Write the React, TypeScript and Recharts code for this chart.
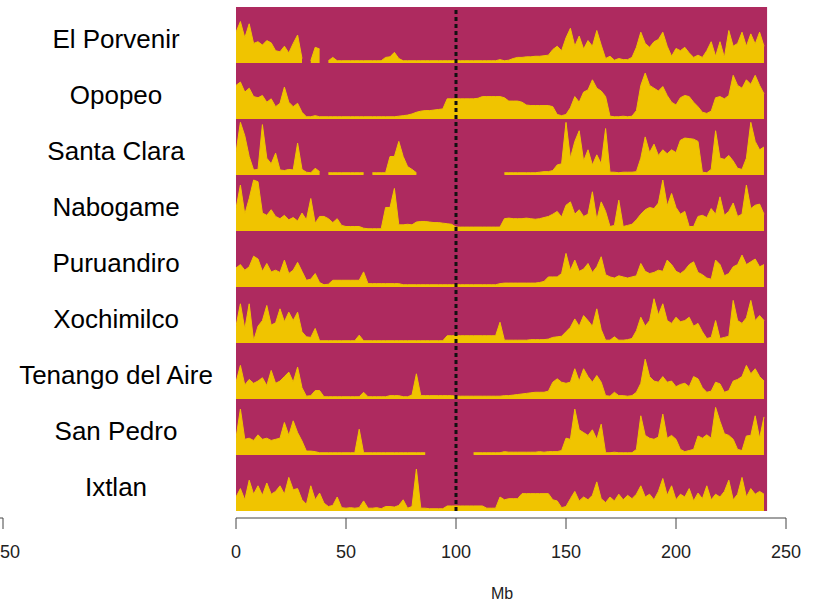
import React from 'react';
import { AreaChart, Area, XAxis, YAxis, ReferenceArea, ReferenceLine } from 'recharts';

// window start positions along the chromosome (Mb)
const MB = [
  0, 2, 4, 6, 8, 10, 12, 14, 16, 18,
  20, 22, 24, 26, 28, 30, 32, 34, 36, 38,
  40, 42, 44, 46, 48, 50, 52, 54, 56, 58,
  60, 62, 64, 66, 68, 70, 72, 74, 76, 78,
  80, 82, 84, 86, 88, 90, 92, 94, 96, 98,
  100, 102, 104, 106, 108, 110, 112, 114, 116, 118,
  120, 122, 124, 126, 128, 130, 132, 134, 136, 138,
  140, 142, 144, 146, 148, 150, 152, 154, 156, 158,
  160, 162, 164, 166, 168, 170, 172, 174, 176, 178,
  180, 182, 184, 186, 188, 190, 192, 194, 196, 198,
  200, 202, 204, 206, 208, 210, 212, 214, 216, 218,
  220, 222, 224, 226, 228, 230, 232, 234, 236, 238,
  240,
];

const POPULATIONS = [
  'El Porvenir', 'Opopeo', 'Santa Clara', 'Nabogame', 'Puruandiro',
  'Xochimilco', 'Tenango del Aire', 'San Pedro', 'Ixtlan',
];

// score per window, scaled 0-100 of the panel height; null = no data
const elPorvenir = [
  55, 74, 45, 70, 35, 38, 32, 40, 36, 22,
  20, 30, 18, 35, 50, 8, null, 4, 28, 25,
  null, 4, 10, 4, 4, 4, 4, 4, 4, 4,
  4, 4, 4, 4, 10, 11, 19, 8, 4, 4,
  4, 4, 4, 4, 4, 4, 4, 4, 4, 4,
  4, 4, 4, 4, 4, 4, 4, 4, 4, 4,
  6, 4, 5, 8, 10, 10, 11, 11, 12, 12,
  13, 14, 24, 30, 22, 45, 62, 30, 48, 25,
  40, 30, 58, 32, 8, 12, 5, 8, 6, 6,
  10, 28, 55, 35, 28, 38, 42, 55, 30, 12,
  26, 22, 28, 18, 10, 14, 10, 22, 38, 12,
  38, 10, 58, 30, 35, 55, 30, 52, 34, 55,
  30,
];

const opopeo = [
  60, 66, 48, 55, 40, 38, 42, 30, 36, 22,
  28, 57, 30, 22, 28, 12, 4, 4, 6, 4,
  4, 4, 4, 4, 4, 4, 4, 4, 4, 4,
  4, 4, 4, 4, 4, 4, 4, 5, 6, 7,
  9, 12, 14, 15, 15, 16, 17, 18, 36, 36,
  36, 36, 36, 36, 36, 37, 40, 40, 40, 40,
  40, 38, 32, 32, 32, 30, 25, 24, 24, 24,
  24, 24, 22, 8, 6, 8, 20, 40, 30, 48,
  52, 70, 55, 50, 40, 5, 4, 4, 5, 4,
  5, 15, 60, 82, 60, 55, 50, 58, 42, 30,
  25, 38, 42, 40, 30, 22, 12, 10, 14, 38,
  40, 36, 42, 78, 60, 55, 70, 62, 78, 60,
  45,
];

const santaClara = [
  40, 94, 70, 33, 9, 10, 90, 30, 20, 39,
  9, 8, 10, 9, 57, 10, 5, 4, 12, 6,
  null, 4, 4, 4, 4, 4, 4, 4, 4, 4,
  null, 4, 4, 4, 4, 33, 33, 60, 33, 15,
  10, 4, null, null, null, null, null, null, null, null,
  null, null, null, null, null, null, null, null, null, null,
  null, 4, 4, 4, 4, 4, 4, 4, 4, 5,
  6, 6, 8, 18, 20, 94, 30, 60, 79, 25,
  45, 18, 36, 20, 83, 5, 5, 4, 5, 5,
  5, 6, 30, 68, 40, 55, 35, 45, 38, 45,
  40, 62, 66, 65, 64, 60, 5, 4, 10, 79,
  30, 28, 35, 25, 12, 10, 30, 94, 60, 45,
  50,
];

const nabogame = [
  40, 82, 30, 58, 91, 88, 32, 28, 38, 26,
  22, 28, 20, 24, 18, 32, 20, 58, 14, 26,
  26, 22, 15, 22, 10, 8, 8, 8, 8, 5,
  4, 4, 4, 4, 42, 42, 76, 11, 11, 12,
  11, 16, 17, 17, 16, 15, 15, 14, 13, 12,
  7, 7, 7, 7, 7, 7, 7, 7, 7, 7,
  7, 22, 23, 22, 22, 22, 23, 22, 21, 22,
  24, 26, 30, 35, 25, 46, 52, 30, 38, 26,
  30, 70, 20, 52, 35, 8, 10, 55, 8, 10,
  12, 20, 30, 38, 42, 40, 50, 91, 45, 67,
  42, 30, 35, 8, 8, 26, 28, 24, 40, 30,
  61, 28, 35, 50, 26, 30, 82, 40, 46, 48,
  30,
];

const puruandiro = [
  34, 40, 30, 36, 55, 50, 28, 42, 27, 30,
  26, 48, 24, 30, 44, 28, 12, 14, 24, 8,
  4, 5, 12, 12, 12, 12, 12, 12, 12, 27,
  6, 6, 6, 6, 6, 6, 6, 6, 4, 4,
  4, 4, 4, 4, 4, 4, 4, 4, 4, 4,
  4, 4, 4, 4, 4, 4, 4, 4, 4, 4,
  6, 7, 7, 7, 7, 7, 7, 7, 7, 8,
  10, 18, 18, 18, 24, 60, 30, 48, 28, 32,
  42, 26, 36, 54, 22, 18, 16, 20, 18, 16,
  18, 20, 42, 28, 24, 26, 30, 28, 48, 40,
  28, 24, 30, 40, 45, 26, 22, 16, 14, 48,
  40, 20, 24, 36, 40, 57, 40, 45, 50, 36,
  40,
];

const xochimilco = [
  30, 70, 25, 70, 4, 30, 40, 67, 32, 36,
  61, 38, 55, 40, 55, 20, 11, 10, 26, 4,
  4, 4, 4, 4, 4, 4, 4, 4, 14, 4,
  4, 4, 4, 4, 4, 4, 4, 4, 4, 4,
  4, 4, 4, 4, 4, 4, 4, 4, 13, 13,
  13, 13, 13, 13, 13, 13, 13, 13, 13, 13,
  37, 5, 5, 5, 5, 5, 5, 6, 6, 6,
  6, 7, 10, 11, 12, 20, 28, 43, 30, 49,
  40, 30, 61, 24, 5, 5, 11, 5, 5, 6,
  8, 22, 46, 30, 40, 79, 50, 70, 40, 35,
  46, 38, 40, 46, 30, 35, 20, 8, 10, 40,
  8, 10, 12, 76, 40, 35, 45, 76, 40, 49,
  40,
];

const tenango = [
  30, 60, 25, 35, 28, 32, 38, 24, 51, 28,
  32, 40, 48, 30, 57, 20, 5, 6, 15, 15,
  4, 4, 4, 4, 4, 4, 4, 4, 4, 12,
  4, 4, 4, 4, 4, 6, 6, 6, 4, 4,
  7, 45, 6, 6, 6, 6, 6, 6, 6, 6,
  5, 5, 5, 5, 5, 5, 5, 5, 5, 5,
  5, 6, 6, 7, 8, 9, 10, 11, 12, 12,
  12, 14, 30, 36, 30, 28, 30, 54, 32, 54,
  40, 30, 42, 30, 6, 5, 12, 6, 6, 5,
  6, 12, 28, 71, 40, 32, 30, 40, 30, 32,
  22, 26, 28, 22, 40, 36, 20, 12, 14, 30,
  27, 12, 15, 32, 35, 40, 60, 45, 54, 40,
  32,
];

const sanPedro = [
  30, 82, 28, 30, 26, 36, 28, 30, 26, 28,
  30, 58, 35, 61, 40, 25, 7, 7, 6, 4,
  4, 4, 4, 4, 4, 4, 4, 4, 46, 4,
  4, 4, 4, 4, 4, 4, 4, 4, 4, 4,
  4, 4, 4, 4, null, null, null, null, null, null,
  null, null, null, null, 4, 4, 4, 4, 4, 4,
  4, 6, 5, 5, 5, 5, 5, 5, 5, 6,
  5, 6, 6, 6, 8, 30, 28, 82, 45, 40,
  35, 45, 28, 55, 4, 4, 5, 4, 4, 4,
  4, 10, 70, 35, 30, 28, 32, 73, 30, 35,
  28, 10, 6, 8, 10, 34, 30, 36, 30, 85,
  60, 38, 35, 28, 10, 8, 34, 35, 70, 30,
  68,
];

const ixtlan = [
  25, 40, 20, 55, 30, 45, 28, 50, 30, 35,
  45, 30, 60, 38, 40, 20, 12, 45, 20, 32,
  14, 8, 10, 25, 6, 5, 6, 5, 6, 18,
  5, 5, 6, 4, 8, 8, 7, 10, 20, 5,
  8, 75, 5, 5, 4, 4, 4, 4, 9, 9,
  9, 9, 9, 9, 9, 9, 9, 5, 5, 5,
  25, 20, 22, 22, 22, 31, 31, 31, 31, 31,
  31, 31, 20, 18, 6, 8, 22, 35, 18, 25,
  20, 28, 52, 22, 15, 25, 18, 30, 20, 28,
  22, 30, 45, 25, 30, 20, 35, 58, 28, 45,
  20, 30, 25, 40, 18, 32, 22, 45, 20, 30,
  25, 35, 55, 20, 30, 60, 25, 40, 30, 35,
  30,
];

const SERIES = [elPorvenir, opopeo, santaClara, nabogame, puruandiro, xochimilco, tenango, sanPedro, ixtlan];

const AXIS_TICKS = [0, 50, 100, 150, 200, 250];
const CHROM_END = 241.4;
const CENTROMERE = 100;

const CRIMSON = '#AE2A5F';
const GOLD = '#F0C400';
const FONT = 'Arial, "Liberation Sans", sans-serif';

const W = 817;
const ROW_H = 56;
const TOP = 7;
const MARGIN = { top: 0, right: 31, bottom: 0, left: 236 };

const rows = SERIES.map((vals) => MB.map((mb, i) => ({ mb, v: vals[i] })));

const Row = ({ data }: { data: { mb: number; v: number | null }[] }) => (
  <AreaChart width={W} height={ROW_H} data={data} margin={MARGIN}>
    <XAxis dataKey="mb" type="number" domain={[0, 250]} hide allowDataOverflow />
    <YAxis type="number" domain={[0, 100]} hide allowDataOverflow />
    <ReferenceArea x1={0} x2={CHROM_END} y1={0} y2={100} fill={CRIMSON} fillOpacity={1} stroke="none" />
    <Area
      type="linear"
      dataKey="v"
      baseValue={0}
      stroke={GOLD}
      strokeWidth={1}
      fill={GOLD}
      fillOpacity={1}
      connectNulls={false}
      dot={false}
      activeDot={false}
      isAnimationActive={false}
    />
    <ReferenceLine x={CENTROMERE} stroke="#111" strokeWidth={3} strokeDasharray="4 3" />
  </AreaChart>
);

const BottomAxis = ({ showLabels = true }: { showLabels?: boolean }) => (
  <AreaChart width={W} height={100} data={[{ mb: 0 }, { mb: 250 }]} margin={MARGIN}>
    <XAxis
      dataKey="mb"
      type="number"
      domain={[0, 250]}
      ticks={AXIS_TICKS}
      height={90}
      tickSize={11}
      tickMargin={16}
      stroke="#444"
      tick={showLabels ? { fill: '#222', fontSize: 18, fontFamily: FONT } : () => <g />}
    />
    <YAxis type="number" domain={[0, 1]} hide />
  </AreaChart>
);

export default function App() {
  return (
    <div style={{ position: 'absolute', left: 0, top: 0, width: W, height: 605, background: '#fff', overflow: 'hidden', fontFamily: FONT }}>
      {rows.map((data, i) => (
        <div key={POPULATIONS[i]} style={{ position: 'absolute', left: 0, top: TOP + i * ROW_H }}>
          <Row data={data} />
        </div>
      ))}
      {POPULATIONS.map((name, i) => (
        <div
          key={name}
          style={{
            position: 'absolute',
            left: 0,
            width: 232,
            top: 26.3 + i * ROW_H,
            fontSize: 26,
            lineHeight: '26px',
            textAlign: 'center',
            color: '#000',
            whiteSpace: 'nowrap',
          }}
        >
          {name}
        </div>
      ))}
      <div style={{ position: 'absolute', left: 0, top: 508 }}>
        <BottomAxis />
      </div>
      {/* right end of the neighbouring panel's axis */}
      <div style={{ position: 'absolute', left: -783, top: 508 }}>
        <BottomAxis showLabels={false} />
      </div>
      <div style={{ position: 'absolute', left: 0, top: 543, fontSize: 18, lineHeight: '18px', color: '#222' }}>
        50
      </div>
      <div style={{ position: 'absolute', left: 482, width: 40, top: 585, fontSize: 16, textAlign: 'center', color: '#222' }}>
        Mb
      </div>
    </div>
  );
}
